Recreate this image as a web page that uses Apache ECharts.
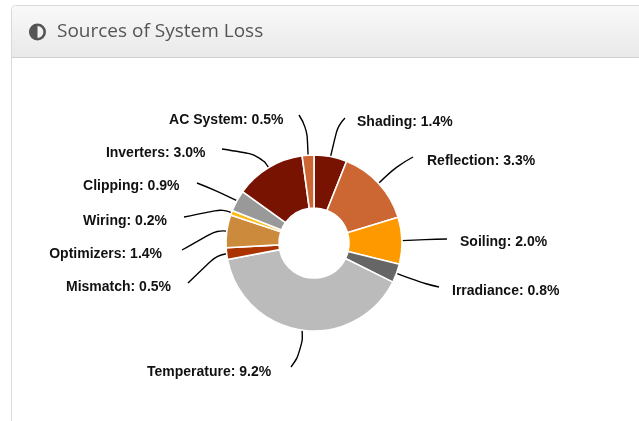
<!DOCTYPE html>
<html><head><meta charset="utf-8">
<style>html,body{margin:0;padding:0;background:#fff}#c{width:639px;height:421px}</style>
<script src="https://cdn.jsdelivr.net/npm/echarts@6/dist/echarts.min.js"></script>
</head><body><div id="c"></div>
<script>
const categories=['Shading','Reflection','Soiling','Irradiance','Temperature','Mismatch','Optimizers','Wiring','Clipping','Inverters','AC System'];
const values=[1.4,3.3,2.0,0.8,9.2,0.5,1.4,0.2,0.9,3.0,0.5];
const colors=['#771300','#cc6633','#ff9900','#666666','#bbbbbb','#aa3300','#cc8a3c','#ffbb11','#999999','#771300','#cc6633'];
// label anchor positions and leader-line bend/end points (layout only)
const labelPos=[[357,122,'left'],[427,161,'left'],[460,242,'left'],[452,291,'left'],[147,372,'left'],[171,287,'right'],[162,254,'right'],[167,221,'right'],[179.5,186,'right'],[205.5,153,'right'],[283.5,120,'right']];
const linePts=[[[338,125],[345,118]],[[396,166],[413,157]],[[425,239.5],[447,239]],[[425,284],[439,287]],[[303,350],[291,367]],[[217,255],[188,283]],[[217,230],[182,250]],[[223,209],[184,217]],[[215,190],[197,183]],[[260,155],[222,149]],[[307,127],[299,115]]];
const chart=echarts.init(document.getElementById('c'),null,{renderer:'canvas'});
chart.setOption({
  animation:false,
  graphic:[
    {type:'rect',z:0,shape:{x:11.5,y:5.5,width:700,height:500,r:4},style:{fill:'#fff',stroke:'#d9d9d9',lineWidth:1}},
    {type:'rect',z:1,shape:{x:12,y:6,width:700,height:51,r:[4,0,0,0]},style:{fill:new echarts.graphic.LinearGradient(0,0,0,1,[{offset:0,color:'#f9f9f9'},{offset:1,color:'#e9e9e9'}])}},
    {type:'line',z:2,shape:{x1:12,y1:57.5,x2:639,y2:57.5},style:{stroke:'#cfcfcf',lineWidth:1}},
    {type:'circle',z:3,shape:{cx:37.5,cy:32,r:7.2},style:{fill:'none',stroke:'#555',lineWidth:2.6}},
    {type:'sector',z:3,shape:{cx:37.5,cy:32,r:8,r0:0,startAngle:Math.PI/2,endAngle:Math.PI*1.5},style:{fill:'#555'}},
    {type:'text',z:3,style:{x:57,y:32,text:'Sources of System Loss',font:'19px "Open Sans"',fill:'#555',verticalAlign:'middle'}}
  ],
  series:[{
    type:'pie',center:[314,243],radius:[35,88],startAngle:90,clockwise:true,
    avoidLabelOverlap:false,
    itemStyle:{borderColor:'#fff',borderWidth:1.6},
    label:{show:true,position:'outside',formatter:p=>p.name+': '+p.value.toFixed(1)+'%',fontFamily:'"Liberation Sans"',fontWeight:'bold',fontSize:14,color:'#111'},
    labelLine:{show:true,smooth:0.5,length:20,length2:20,lineStyle:{color:'#000',width:1.4}},
    labelLayout:function(p){
      const i=p.dataIndex,lp=labelPos[i],s=p.labelLinePoints?p.labelLinePoints[0]:[0,0];
      return {x:lp[0],y:lp[1],align:lp[2],verticalAlign:'middle',labelLinePoints:[s,linePts[i][0],linePts[i][1]]};
    },
    data:categories.map((c,i)=>({name:c,value:values[i],itemStyle:{color:colors[i]}}))
  }]
});
</script></body></html>
